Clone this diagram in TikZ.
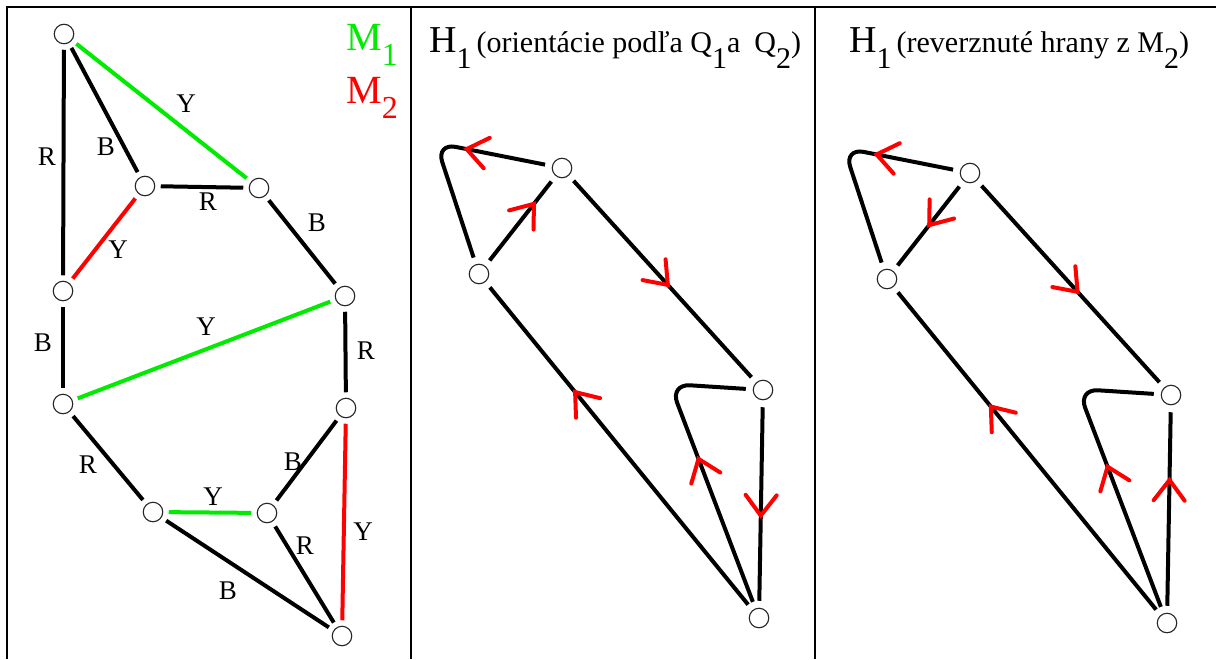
\documentclass[tikz,border=0pt]{standalone}
\usepackage{fontspec}
\setmainfont{Liberation Serif}
\usetikzlibrary{decorations.markings}
\definecolor{mgreen}{RGB}{0,235,0}
\definecolor{mred}{RGB}{255,0,0}
\newcommand\tsub[1]{\raisebox{-16pt}{#1}}
\begin{document}
\begin{tikzpicture}[x=1pt,y=-1pt,
  vtx/.style={circle, draw=black!85, line width=1.1pt, fill=white, minimum size=19.5pt, inner sep=0pt, outer sep=#1},
  vtx/.default=6pt,
  edge/.style={line width=4pt, draw=black},
  gedge/.style={line width=4pt, draw=mgreen},
  redge/.style={line width=4pt, draw=mred},
  elab/.style={font=\fontsize{27}{29}\selectfont, inner sep=0pt},
  frame/.style={line width=2.4pt, draw=black},
  redarr/.style={postaction={decorate, decoration={markings, mark=at position #1 with {\draw[mred, line width=4pt, line cap=round, sharp corners] (-20.5pt,15.5pt) -- (0pt,0pt) -- (-20.5pt,-15.5pt);}}}},
  ttl/.style={anchor=base west, inner sep=0pt}
]
\useasboundingbox (0,0) rectangle (1216,659);
\fill[white] (0,0) rectangle (1216,659);
% frame
\draw[frame] (7,659) -- (7,7) -- (1216,7);
\draw[frame] (411,7) -- (411,659);
\draw[frame] (815,7) -- (815,659);

% ---------- panel 1 ----------
\node[vtx] (n1) at (64,34) {};
\node[vtx] (n2) at (145,186) {};
\node[vtx] (n3) at (259,188) {};
\node[vtx] (n4) at (63,291) {};
\node[vtx] (n5) at (345,296) {};
\node[vtx] (n6) at (63,404) {};
\node[vtx] (n7) at (346,408) {};
\node[vtx] (n8) at (153,512) {};
\node[vtx] (n9) at (267,513) {};
\node[vtx] (n10) at (342,636) {};

\draw[edge] (n1) -- (n4);
\draw[edge] (n1) -- (n2);
\draw[gedge] (n1) -- (n3);
\draw[edge] (n2) -- (n3);
\draw[redge] (n2) -- (n4);
\draw[edge] (n3) -- (n5);
\draw[edge] (n4) -- (n6);
\draw[gedge] (n5) -- (n6);
\draw[edge] (n5) -- (n7);
\draw[edge] (n6) -- (n8);
\draw[edge] (n7) -- (n9);
\draw[redge] (n7) -- (n10);
\draw[gedge] (n8) -- (n9);
\draw[edge] (n8) -- (n10);
\draw[edge] (n9) -- (n10);

\node[elab] (l14) at (47,157) {R};
\node[elab] (l12) at (106,147) {B};
\node[elab] (l13) at (186,104) {Y};
\node[elab] (l23) at (208,202) {R};
\node[elab] (l24) at (118,250) {Y};
\node[elab] (l35) at (317,223) {B};
\node[elab] (l46) at (43,343) {B};
\node[elab] (l56) at (206,327) {Y};
\node[elab] (l57) at (366,351) {R};
\node[elab] (l68) at (88,465) {R};
\node[elab] (l79) at (293,462) {B};
\node[elab] (l710) at (363,532) {Y};
\node[elab] (l89) at (213,497) {Y};
\node[elab] (l810) at (228,591) {B};
\node[elab] (l910) at (305,546) {R};

\node[ttl, text=mgreen] (m1) at (346,50) {\fontsize{40}{42}\selectfont M\raisebox{-15pt}{\fontsize{32}{34}\selectfont 1}};
\node[ttl, text=mred] (m2) at (346,103) {\fontsize{40}{42}\selectfont M\raisebox{-15pt}{\fontsize{32}{34}\selectfont 2}};

% ---------- panel 2 ----------
\node[ttl] (t1) at (429,52) {{\fontsize{38}{40}\selectfont H}\tsub{\fontsize{30}{32}\selectfont 1}\hspace{5pt}{\fontsize{30}{32}\selectfont (orientácie podľa Q\tsub{1}a\hspace{14pt}Q\tsub{2})}};

\node[vtx=7.5pt] (a) at (562,168) {};
\node[vtx=7.5pt] (b) at (479,274) {};
\node[vtx=7.5pt] (c) at (763,390) {};
\node[vtx=7.5pt] (d) at (759,618) {};
\coordinate (ka) at (436,143);
\coordinate (kc) at (670,384);

\draw[edge, rounded corners=20pt, redarr=80pt] (a) -- (ka) -- (b);
\draw[edge, redarr=0.72] (b) -- (a);
\draw[edge, redarr=0.53] (a) -- (c);
\draw[edge, redarr=0.67] (d) -- (b);
\draw[edge, rounded corners=20pt, redarr=153pt] (d) -- (kc) -- (c);
\draw[edge, redarr=0.56] (c) -- (d);

% ---------- panel 3 ----------
\node[ttl] (t2) at (849,52) {{\fontsize{38}{40}\selectfont H}\tsub{\fontsize{30}{32}\selectfont 1}\hspace{5pt}{\fontsize{30}{32}\selectfont (reverznuté hrany z M\tsub{2})}};

\node[vtx=7.5pt] (a2) at (970,173) {};
\node[vtx=7.5pt] (b2) at (887,279) {};
\node[vtx=7.5pt] (c2) at (1171,395) {};
\node[vtx=7.5pt] (d2) at (1167,623) {};
\coordinate (ka2) at (844,148);
\coordinate (kc2) at (1078,389);

\draw[edge, rounded corners=20pt, redarr=78pt] (a2) -- (ka2) -- (b2);
\draw[edge, redarr=0.49] (a2) -- (b2);
\draw[edge, redarr=0.54] (a2) -- (c2);
\draw[edge, redarr=0.64] (d2) -- (b2);
\draw[edge, rounded corners=20pt, redarr=150pt] (d2) -- (kc2) -- (c2);
\draw[edge, redarr=0.65] (d2) -- (c2);
\end{tikzpicture}
\end{document}
